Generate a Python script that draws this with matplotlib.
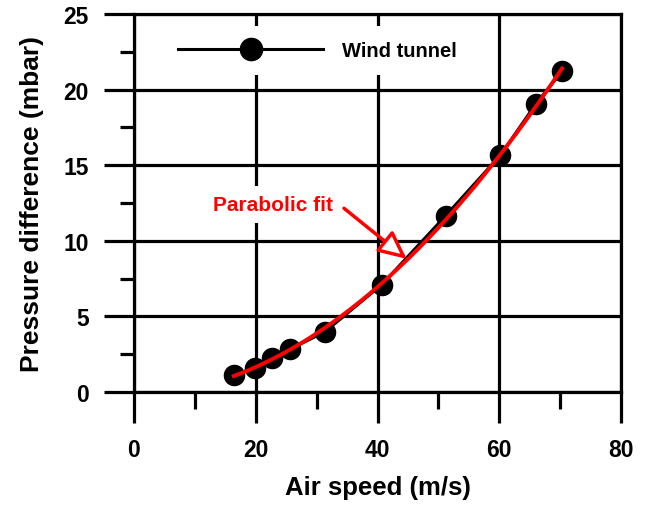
import numpy as np
import matplotlib
matplotlib.use("Agg")
import matplotlib.pyplot as plt
from matplotlib.lines import Line2D
from matplotlib.patches import ArrowStyle

plt.rcParams['font.family'] = ['Liberation Sans', 'DejaVu Sans']
plt.rcParams['font.weight'] = 'bold'

# Data
air_speed = [16.4, 19.8, 22.6, 25.7, 31.4, 40.7, 51.2, 60.2, 66.0, 70.3]
pressure_diff = [1.15, 1.57, 2.23, 2.84, 3.99, 7.1, 11.66, 15.67, 19.05, 21.2]
x_ticks = [0, 20, 40, 60, 80]
y_ticks = [0, 5, 10, 15, 20, 25]
x_minor = [10, 30, 50, 70]
y_minor = [2.5, 7.5, 12.5, 17.5, 22.5]

# parabolic fit of the measured points
coef = np.polyfit(air_speed, pressure_diff, 2)
fit_x = np.linspace(min(air_speed), max(air_speed), 200)
fit_y = np.polyval(coef, fit_x)

fig = plt.figure(figsize=(6.47, 5.06), dpi=100)
ax = fig.add_axes([134/647, 1-393/506, (621-134)/647, (393-15)/506])

lw = 2.3
ax.set_xlim(0, 80)
ax.set_ylim(0, 25)
ax.set_xticks(x_ticks)
ax.set_yticks(y_ticks)
ax.set_xticks(x_minor, minor=True)
ax.set_yticks(y_minor, minor=True)
ax.grid(which='major', color='black', lw=lw, zorder=1)
for s in ax.spines.values():
    s.set_linewidth(lw)
ax.tick_params(axis='x', which='major', length=22.3, width=lw, pad=11, labelsize=16.5)
ax.tick_params(axis='y', which='major', length=21.6, width=lw, pad=11, labelsize=16.5)
ax.tick_params(axis='x', which='minor', length=12, width=lw)
ax.tick_params(axis='y', which='minor', length=10, width=lw)
for lab in ax.get_xticklabels() + ax.get_yticklabels():
    lab.set_fontweight('bold')

ax.plot(air_speed, pressure_diff, color='black', lw=2.2, marker='o',
        markersize=14.5, zorder=3, clip_on=False)
ax.plot(fit_x, fit_y, color='red', lw=2.8, zorder=4)

ax.set_xlabel('Air speed (m/s)', fontsize=18.5, fontweight='bold', labelpad=10)
ax.set_ylabel('Pressure difference (mbar)', fontsize=19, fontweight='bold', labelpad=14)

handle = Line2D([], [], color='black', lw=2.2, marker='o', markersize=16)
leg = ax.legend([handle], ['Wind tunnel'], loc='upper left',
                bbox_to_anchor=(0.0595, 0.968), borderaxespad=0, frameon=True,
                fancybox=False, framealpha=1, facecolor='white', edgecolor='none',
                handlelength=7.2, handletextpad=0.93, borderpad=0.75,
                numpoints=1, prop={'size': 14.5, 'weight': 'bold'})
leg.set_zorder(5)

ax.text(32.7, 12.43, 'Parabolic fit', color='red', fontsize=15, fontweight='bold',
        ha='right', va='center', zorder=5,
        bbox=dict(facecolor='white', edgecolor='none', pad=6.5))
ax.annotate('', xy=(44.8, 8.8), xytext=(34.5, 12.15),
            arrowprops=dict(arrowstyle=ArrowStyle('-|>', head_length=17, head_width=8),
                            mutation_scale=1, ec='red', fc='white', lw=2.5,
                            shrinkA=0, shrinkB=0), zorder=6)

fig.savefig('out.png', dpi=100)
